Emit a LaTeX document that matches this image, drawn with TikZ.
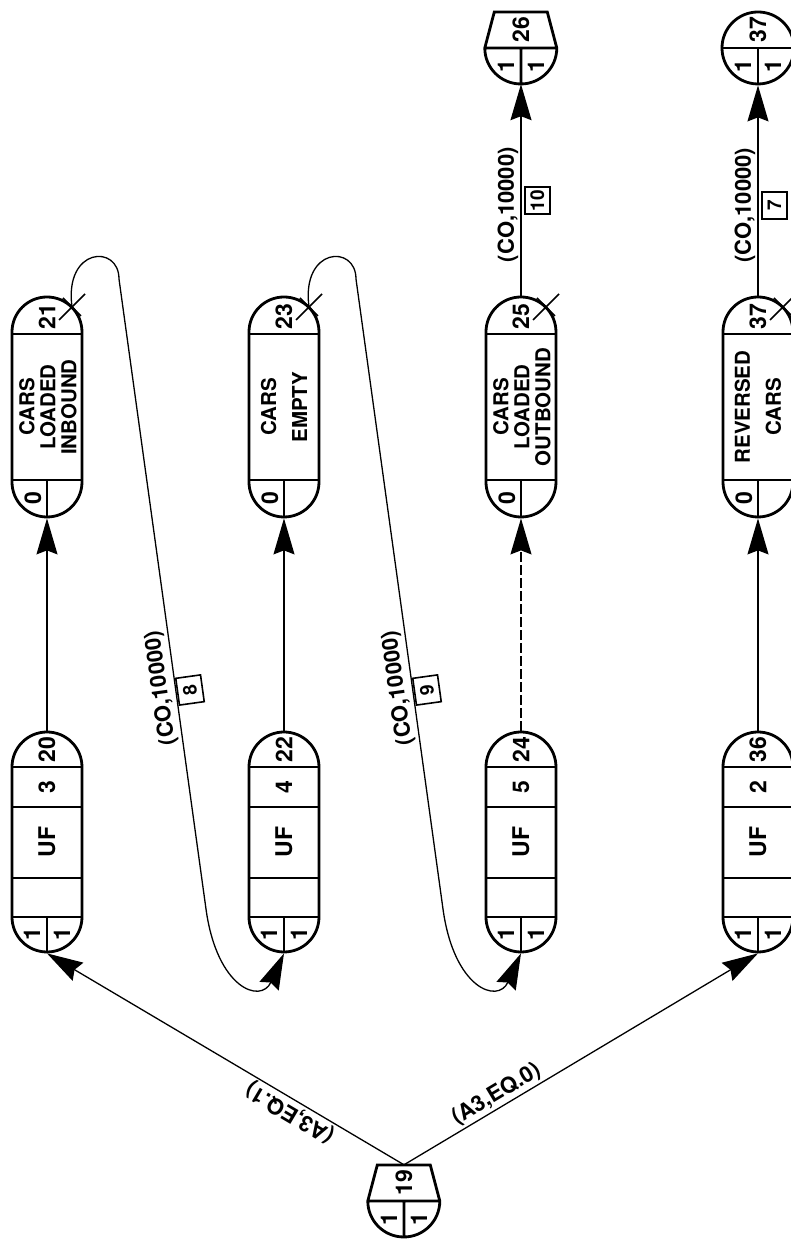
\documentclass[tikz,border=0pt]{standalone}
\usepackage{fontspec}
\setmainfont{TeX Gyre Heros}
\usetikzlibrary{arrows.meta, shapes.misc, calc}

\begin{document}
\begin{tikzpicture}[
      x=1pt, y=1pt, rotate=90, transform shape,
      qbox/.style={draw, line width=2.8pt, rounded rectangle, minimum width=220pt, minimum height=70pt, inner sep=0pt},
      term/.style={circle, minimum size=72pt, inner sep=0pt},
      outline/.style={line width=2.8pt},
      conn/.style={line width=1.3pt, -{Stealth[length=36pt, width=21pt, inset=4pt]}},
      cell/.style={font=\fontsize{23}{23}\selectfont\bfseries, inner sep=0pt},
      tag/.style={font=\fontsize{20.5}{21}\selectfont\bfseries, align=center, inner sep=0pt},
      tagtwo/.style={tag, font=\fontsize{20.5}{31}\selectfont\bfseries},
      dur/.style={font=\fontsize{22}{22}\selectfont\bfseries, inner sep=2pt},
      actno/.style={draw, line width=1.6pt, minimum width=27pt, minimum height=25pt, inner sep=0pt, font=\fontsize{19}{19}\selectfont\bfseries},
      cross/.style={line width=1.5pt}
    ]
    \useasboundingbox (0,0) rectangle (1239,791);
    \clip (0,0) rectangle (1239,791);

    \foreach \n/\yy/\cp in {20/744/3, 22/507/4, 24/270/5, 36/33/2} {
      \node[qbox] (q\n) at (397,\yy) {};
      \draw[outline] (322,\yy-35) -- (322,\yy+35) (361,\yy-35) -- (361,\yy+35)
        (432,\yy-35) -- (432,\yy+35) (472,\yy-35) -- (472,\yy+35) (q\n.west) -- (322,\yy);
      \node[cell] (ina\n) at (305,\yy+15) {1};
      \node[cell] (inb\n) at (305,\yy-15) {1};
      \node[cell] (rk\n) at (397,\yy) {UF};
      \node[cell] (cp\n) at (452,\yy) {\cp};
      \node[cell] (no\n) at (489,\yy) {\n};
    }

    \foreach \n/\yy in {21/744, 23/507, 25/270, 37/33} {
      \node[qbox] (r\n) at (832,\yy) {};
      \draw[outline] (759,\yy-35) -- (759,\yy+35) (905,\yy-35) -- (905,\yy+35) (r\n.west) -- (759,\yy);
      \node[cell] (z\n) at (741,\yy+14) {0};
      \node[cell] (no\n) at (922,\yy) {\n};
      \coordinate (x\n) at (932,\yy-25);
      \draw[cross] (x\n) +(-13,13) -- +(13,-13) +(-9,-9) -- +(9,9);
    }
    \node[tag] (d21) at (832,743) {CARS\\LOADED\\INBOUND};
    \node[tagtwo] (d23) at (832,507) {CARS\\EMPTY};
    \node[tag] (d25) at (832,269) {CARS\\LOADED\\OUTBOUND};
    \node[tagtwo] (d37) at (832,33) {REVERSED\\CARS};

    \node[term] (t19) at (38,387) {};
    \draw[outline] (t19.north) arc[start angle=90, end angle=270, radius=36] -- ++(36,9.5) -- ++(0,53) -- cycle
      (t19.north) -- (t19.south) (t19.west) -- (t19.center);
    \node[cell] (tl19) at (56,387) {19};
    \node[cell] (ta19) at (20,402) {1};
    \node[cell] (tb19) at (20,372) {1};

    \node[term] (t26) at (1191,270) {};
    \draw[outline] (t26.north) arc[start angle=90, end angle=270, radius=36] -- ++(36,9.5) -- ++(0,53) -- cycle
      (t26.north) -- (t26.south) (t26.west) -- (t26.center);
    \node[cell] (tl26) at (1209,270) {26};
    \node[cell] (ta26) at (1173,285) {1};
    \node[cell] (tb26) at (1173,255) {1};

    \node[term, draw, line width=2.8pt] (t37) at (1191,33) {};
    \draw[outline] (t37.north) -- (t37.south) (t37.west) -- (t37.center);
    \node[cell] (tl37) at (1209,33) {37};
    \node[cell] (ta37) at (1173,48) {1};
    \node[cell] (tb37) at (1173,18) {1};

    \draw[conn] (q20.east) -- (r21.west);
    \draw[conn] (q22.east) -- (r23.west);
    \draw[conn, dash pattern=on 10pt off 3pt] (q24.east) -- (r25.west);
    \draw[conn] (q36.east) -- (r37.west);

    \draw[conn] (t19.east) -- node[dur, above, sloped, pos=0.3] (c20) {(A3,EQ.1)} (q20.west);
    \draw[conn] (t19.east) -- node[dur, above, sloped, pos=0.28] (c36) {(A3,EQ.0)} (q36.west);

    \draw[conn] (r25.east) -- node[dur, above, pos=0.43] (c26) {(CO,10000)}
      node[actno, below=3pt, pos=0.45] (a10) {10} (t26.west);
    \draw[conn] (r37.east) -- node[dur, above, pos=0.43] (c37) {(CO,10000)}
      node[actno, below=3pt, pos=0.43] (a7) {7} (t37.west);

    \foreach \src/\dst/\k/\m in {21/22/0/8, 23/24/237/9} {
      \draw[conn] (x\src) .. controls (992,727-\k) and (995,672-\k) .. (960,672-\k) -- (330,585-\k)
        .. controls (250,574-\k) and (235,530-\k) .. (q\dst.west);
      \node[dur, rotate=7.9] (c\dst) at (551,630-\k) {(CO,10000)};
      \node[actno, rotate=7.9] (a\m) at (549,601-\k) {\m};
    }
\end{tikzpicture}
\end{document}
